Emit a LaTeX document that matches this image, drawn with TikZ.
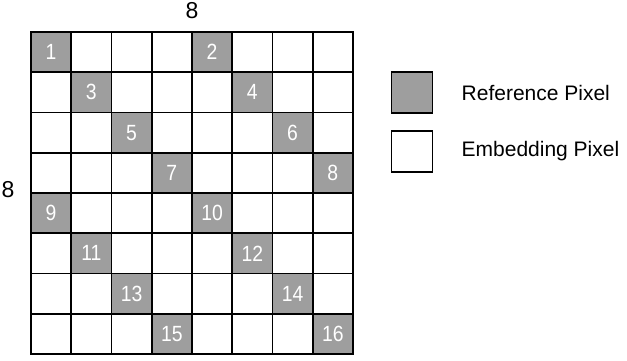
\documentclass[tikz,border=0pt]{standalone}
\usepackage{fontspec}
\setmainfont{Liberation Sans}
\newfontfamily\cellfont[FakeStretch=0.88]{Liberation Sans}
\definecolor{refgray}{RGB}{158,158,158}
\begin{document}
\begin{tikzpicture}[x=1pt,y=-1pt,
  cellbox/.style={draw=black,line width=1.8pt,minimum size=40.25pt,inner sep=0pt,outer sep=0pt,fill=white},
  refbox/.style={cellbox,fill=refgray,text=white,font=\cellfont\fontsize{22}{22}\selectfont},
  legbox/.style={draw=black,line width=1.8pt,minimum size=41pt,inner sep=0pt},
  legtext/.style={anchor=west,inner sep=0pt,font=\fontsize{21}{21}\selectfont},
  dimlabel/.style={inner sep=0pt,font=\fontsize{23}{23}\selectfont}]
\useasboundingbox (0,0) rectangle (627,361);
\foreach \r in {0,...,7}{
  \foreach \c in {0,...,7}{
    \node[cellbox] (cell-\r-\c) at ({31+(\c+0.5)*40.25},{32+(\r+0.5)*40.25}) {};
  }
}
\foreach \r in {0,...,7}{
  \pgfmathtruncatemacro\ca{mod(\r,4)}
  \pgfmathtruncatemacro\cb{\ca+4}
  \pgfmathtruncatemacro\na{2*\r+1}
  \pgfmathtruncatemacro\nb{2*\r+2}
  \node[refbox] (ref-\na) at (cell-\r-\ca) {\na};
  \node[refbox] (ref-\nb) at (cell-\r-\cb) {\nb};
}
\node[dimlabel] (toplabel) at (192,11) {8};
\node[dimlabel] (leftlabel) at (8,190) {8};
\node[legbox,fill=refgray] (legref) at (412,92.5) {};
\node[legbox,fill=white] (legemb) at (412,151.5) {};
\node[legtext] (legreftext) at (461.5,92.5) {Reference Pixel};
\node[legtext] (legembtext) at (461.5,151.5) {Embedding Pixel};
\end{tikzpicture}
\end{document}
